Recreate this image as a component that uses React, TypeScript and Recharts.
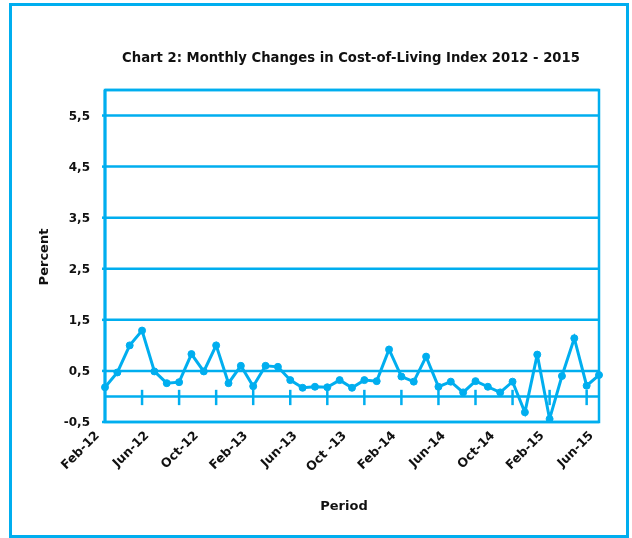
import { LineChart, Line, XAxis, YAxis, CartesianGrid, ReferenceLine, ReferenceArea, Label } from 'recharts'

const months = [
  'Feb-12', 'Mar-12', 'Apr-12', 'May-12', 'Jun-12', 'Jul-12', 'Aug-12', 'Sep-12', 'Oct-12', 'Nov-12', 'Dec-12',
  'Jan-13', 'Feb-13', 'Mar-13', 'Apr-13', 'May-13', 'Jun-13', 'Jul-13', 'Aug-13', 'Sep-13', 'Oct -13', 'Nov-13', 'Dec-13',
  'Jan-14', 'Feb-14', 'Mar-14', 'Apr-14', 'May-14', 'Jun-14', 'Jul-14', 'Aug-14', 'Sep-14', 'Oct-14', 'Nov-14', 'Dec-14',
  'Jan-15', 'Feb-15', 'Mar-15', 'Apr-15', 'May-15', 'Jun-15',
]

const changes = [
  0.18, 0.47, 1.0, 1.29, 0.49, 0.26, 0.28, 0.83, 0.49, 1.0, 0.26,
  0.6, 0.2, 0.6, 0.58, 0.32, 0.17, 0.19, 0.18, 0.32, 0.17, 0.32,
  0.3, 0.92, 0.39, 0.29, 0.78, 0.19, 0.29, 0.08, 0.3, 0.19, 0.08,
  0.29, -0.31, 0.82, -0.44, 0.4, 1.14, 0.21, 0.42,
]

const labelMonths = ['Feb-12', 'Jun-12', 'Oct-12', 'Feb-13', 'Jun-13', 'Oct -13', 'Feb-14', 'Jun-14', 'Oct-14', 'Feb-15', 'Jun-15']
const markMonths = ['May-12', 'Aug-12', 'Nov-12', 'Feb-13', 'May-13', 'Aug-13', 'Nov-13', 'Feb-14', 'May-14', 'Aug-14', 'Nov-14', 'Feb-15', 'May-15']
const yTicks = [-0.5, 0.5, 1.5, 2.5, 3.5, 4.5, 5.5]

const BLUE = '#00aeef'
const FONT = '"DejaVu Sans", Lato, sans-serif'

const data = months.map((m, i) => ({ month: m, value: changes[i] }))

function MonthTick(props: any) {
  const { x, y, payload } = props
  return (
    <g transform={`translate(${x - 5},${y})`}>
      <text x={0} y={0} textAnchor="end" transform="rotate(-45)" fontFamily={FONT} fontWeight={700} fontSize={12.5} fill="#111">
        {payload.value}
      </text>
    </g>
  )
}

export default function App() {
  return (
    <div style={{ position: 'fixed', left: 0, top: 0, width: 632, height: 538, background: '#fff' }}>
      <div
        style={{
          position: 'absolute', left: 9, top: 3, width: 620, height: 535,
          boxSizing: 'border-box', border: `3px solid ${BLUE}`,
        }}
      />
      <div
        style={{
          position: 'absolute', left: 0, width: 702, top: 50, textAlign: 'center',
          fontFamily: FONT, fontWeight: 700, fontSize: 13.2, color: '#111',
        }}
      >
        Chart 2: Monthly Changes in Cost-of-Living Index 2012 - 2015
      </div>
      <div style={{ position: 'absolute', left: 0, top: 0 }}>
        <LineChart width={632} height={538} data={data} margin={{ top: 90, right: 33, bottom: 36, left: 0 }}>
          <CartesianGrid horizontal vertical={false} stroke={BLUE} strokeWidth={2.5} />
          <ReferenceArea x1={months[0]} x2={months[months.length - 1]} y1={-0.5} y2={6} fill="none" stroke={BLUE} strokeWidth={2.5} />
          <ReferenceLine y={0} stroke={BLUE} strokeWidth={2.5} />
          {markMonths.map((m) => (
            <ReferenceLine key={m} segment={[{ x: m, y: -0.17 }, { x: m, y: 0.13 }]} stroke={BLUE} strokeWidth={2.5} />
          ))}
          <XAxis
            dataKey="month"
            ticks={labelMonths}
            interval={0}
            axisLine={false}
            tickLine={false}
            tickSize={0}
            tickMargin={14}
            height={80}
            tick={<MonthTick />}
          >
            <Label
              content={(p: any) => (
                <text x={p.viewBox.x + p.viewBox.width / 2 - 8} y={510} textAnchor="middle" fontFamily={FONT} fontWeight={700} fontSize={13} fill="#111">
                  Period
                </text>
              )}
            />
          </XAxis>
          <YAxis
            width={105}
            domain={[-0.5, 6]}
            ticks={yTicks}
            allowDataOverflow
            axisLine={{ stroke: BLUE, strokeWidth: 3 }}
            tickLine={{ stroke: BLUE, strokeWidth: 2.5 }}
            tickSize={3}
            tickMargin={12}
            tickFormatter={(v: number) => String(v).replace('.', ',')}
            tick={{ fontFamily: FONT, fontWeight: 700, fontSize: 12, fill: '#111' }}
          >
            <Label
              content={() => (
                <text x={48} y={257} transform="rotate(-90, 48, 257)" textAnchor="middle" fontFamily={FONT} fontWeight={700} fontSize={13} fill="#111">
                  Percent
                </text>
              )}
            />
          </YAxis>
          <Line
            type="linear"
            dataKey="value"
            stroke={BLUE}
            strokeWidth={3}
            dot={{ r: 3.5, fill: BLUE, stroke: BLUE, strokeWidth: 1 }}
            isAnimationActive={false}
          />
        </LineChart>
      </div>
    </div>
  )
}
